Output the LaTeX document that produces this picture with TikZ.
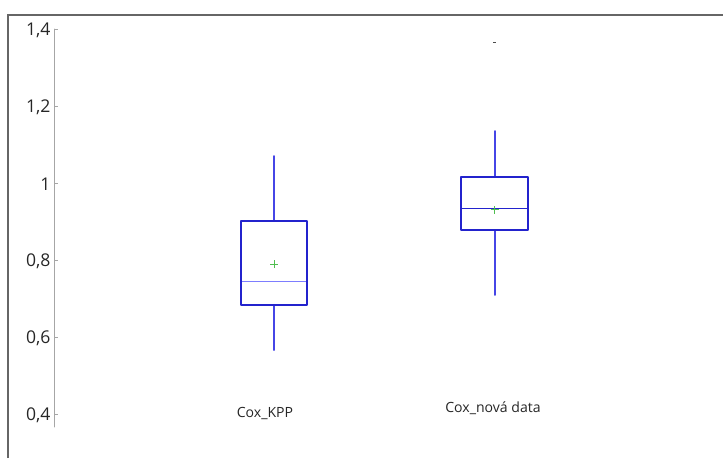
\documentclass[tikz,border=0pt]{standalone}
\usepackage{fontspec}
\setmainfont{Open Sans}
\usepackage{tkz-euclide}
\definecolor{boxline}{RGB}{35,35,205}
\definecolor{whiskerline}{RGB}{70,70,230}
\definecolor{medianline}{RGB}{125,125,255}
\definecolor{meancross}{RGB}{80,190,80}
\newcommand\yval[1]{1.1+(#1-0.4)*9.625}

\begin{document}
\begin{tikzpicture}
                \useasboundingbox (0,0) rectangle (18.075,11.45);
                % frame
                \tkzDefPoint(0.2,0){F}
                \tkzDefPoint(0.2,11.075){G}
                \tkzDefPoint(18.075,11.075){H}
                \draw[line width=1.4pt,color=black!60] (F) -- (G) -- (H);
                % axis
                \tkzDefPoint(1.35,10.725){T}
                \tkzDefPoint(1.35,0.775){B}
                \tkzDrawSegment[color=black!35,line width=0.7pt](T,B)
                \foreach \v/\t in {0.4/{0,4},0.6/{0,6},0.8/{0,8},1/{1},1.2/{1,2},1.4/{1,4}}{
                  \draw[color=black!35,line width=0.6pt] (1.35,{\yval{\v}}) -- (1.45,{\yval{\v}});
                  \node[anchor=east,inner sep=0pt,font=\fontsize{12.5}{14}\selectfont,text=black!85]
                    (tick\v) at (1.27,{\yval{\v}-0.04}) {\t};
                }
                % Cox_KPP
                \tkzDefPoint(6.025,{\yval{0.901}}){A}
                \tkzDefPoint(7.675,{\yval{0.901}}){C}
                \tkzDefPoint(7.675,{\yval{0.684}}){D}
                \tkzDefPoint(6.025,{\yval{0.684}}){E}
                \tkzDefPoint(6.025,{\yval{0.744}}){m}
                \tkzDefPoint(7.675,{\yval{0.744}}){n}
                \tkzDefPoint(6.85,{\yval{0.901}}){q}
                \tkzDefPoint(6.85,{\yval{1.070}}){w}
                \tkzDefPoint(6.85,{\yval{0.684}}){r}
                \tkzDefPoint(6.85,{\yval{0.566}}){s}
                \tkzDrawSegments[color=whiskerline,line width=1.2pt](q,w r,s)
                \tkzDrawSegment[color=medianline,line width=0.9pt](m,n)
                \tkzDrawPolygon[color=boxline,line width=1.3pt](A,C,D,E)
                \draw[color=meancross,line width=0.7pt] (6.75,{\yval{0.789}}) -- (6.95,{\yval{0.789}})
                  (6.85,{\yval{0.789}-0.1}) -- (6.85,{\yval{0.789}+0.1});
                % Cox_nova data
                \tkzDefPoint(11.53,{\yval{1.016}}){K}
                \tkzDefPoint(13.19,{\yval{1.016}}){L}
                \tkzDefPoint(13.19,{\yval{0.877}}){M}
                \tkzDefPoint(11.53,{\yval{0.877}}){N}
                \tkzDefPoint(11.53,{\yval{0.934}}){k}
                \tkzDefPoint(13.19,{\yval{0.934}}){l}
                \tkzDefPoint(12.37,{\yval{1.016}}){u}
                \tkzDefPoint(12.37,{\yval{1.135}}){v}
                \tkzDefPoint(12.37,{\yval{0.877}}){x}
                \tkzDefPoint(12.37,{\yval{0.709}}){y}
                \tkzDrawSegments[color=whiskerline,line width=1.2pt](u,v x,y)
                \tkzDrawSegment[color=boxline,line width=0.8pt](k,l)
                \tkzDrawPolygon[color=boxline,line width=1.3pt](K,L,M,N)
                \draw[color=meancross,line width=0.7pt] (12.27,{\yval{0.930}}) -- (12.47,{\yval{0.930}})
                  (12.37,{\yval{0.930}-0.1}) -- (12.37,{\yval{0.930}+0.1});
                \draw[color=black!70,line width=0.9pt] (12.33,{\yval{1.365}}) -- (12.41,{\yval{1.365}});
                % labels
                \node[anchor=base,font=\fontsize{10}{12}\selectfont,text=black!85] (kpp) at (6.625,1.025) {Cox\_KPP};
                \node[anchor=base,font=\fontsize{10}{12}\selectfont,text=black!85] (nova) at (12.325,1.15) {Cox\_nová data};
\end{tikzpicture}
\end{document}
